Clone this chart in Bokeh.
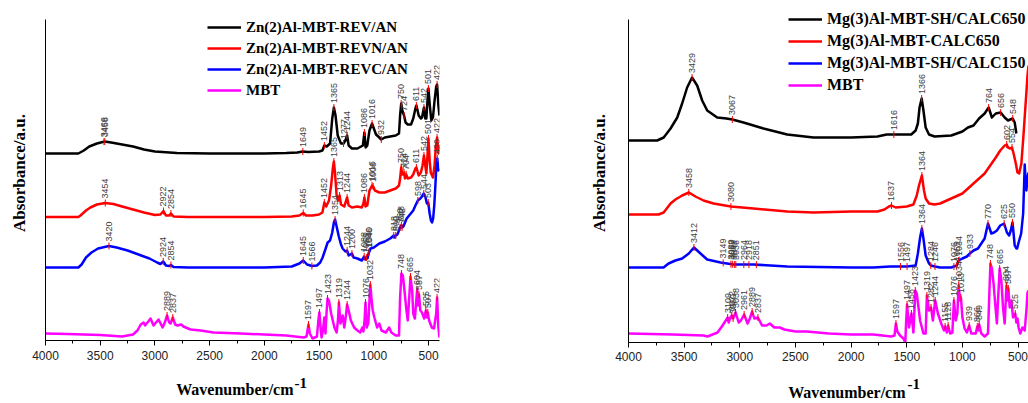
import numpy as np
from bokeh.plotting import figure
from bokeh.layouts import row, column
from bokeh.models import (Range1d, SingleIntervalTicker, FixedTicker, Legend,
                          LegendItem, Label)
from bokeh.embed import file_html
from bokeh.resources import INLINE
from bokeh.core.properties import value

# ---------------------------------------------------------------------------
# FT-IR spectra: (wavenumber cm-1, absorbance a.u. incl. vertical offset)
# ---------------------------------------------------------------------------
ZN_REV = [(4000, 1.87), (3700, 1.87), (3650, 1.90), (3600, 1.94), (3530, 1.97), (3460, 1.99),
          (3400, 1.98), (3300, 1.96), (3200, 1.94), (3100, 1.91), (3000, 1.89), (2800, 1.875),
          (2500, 1.87), (2000, 1.87), (1800, 1.875), (1700, 1.88), (1649, 1.89), (1600, 1.885),
          (1500, 1.89), (1470, 1.90), (1452, 1.95), (1430, 1.94), (1400, 1.97), (1380, 2.22),
          (1365, 2.33), (1350, 2.25), (1330, 2.05), (1300, 1.97), (1277, 1.97), (1260, 2.00),
          (1244, 2.05), (1230, 1.95), (1200, 1.92), (1150, 1.92), (1100, 1.95), (1086, 2.08),
          (1075, 1.93), (1060, 1.95), (1040, 2.10), (1016, 2.17), (1000, 2.12), (980, 2.06),
          (950, 2.03), (932, 2.01), (900, 2.03), (850, 2.04), (800, 2.05), (770, 2.07),
          (760, 2.25), (750, 2.37), (740, 2.30), (724, 2.25), (710, 2.18), (690, 2.16),
          (660, 2.16), (640, 2.22), (620, 2.32), (611, 2.35), (590, 2.25), (570, 2.22),
          (560, 2.23), (542, 2.33), (530, 2.22), (520, 2.22), (510, 2.40), (501, 2.52),
          (490, 2.37), (475, 2.20), (460, 2.23), (445, 2.40), (430, 2.54), (422, 2.56),
          (410, 2.35), (400, 2.25)]
ZN_REVN = [(4000, 1.235), (3700, 1.235), (3680, 1.25), (3630, 1.30), (3590, 1.33), (3530, 1.36),
           (3454, 1.375), (3380, 1.365), (3300, 1.34), (3200, 1.31), (3100, 1.28), (3000, 1.255),
           (2950, 1.26), (2922, 1.295), (2900, 1.25), (2870, 1.25), (2854, 1.27), (2830, 1.24),
           (2700, 1.235), (2000, 1.235), (1750, 1.24), (1680, 1.25), (1645, 1.275), (1620, 1.25),
           (1560, 1.25), (1500, 1.26), (1470, 1.28), (1452, 1.38), (1435, 1.34), (1410, 1.40),
           (1390, 1.55), (1375, 1.72), (1365, 1.79), (1355, 1.68), (1340, 1.45), (1325, 1.40),
           (1313, 1.45), (1300, 1.36), (1270, 1.34), (1244, 1.43), (1230, 1.35), (1200, 1.33),
           (1150, 1.34), (1110, 1.33), (1095, 1.37), (1086, 1.43), (1076, 1.34), (1060, 1.35),
           (1040, 1.50), (1016, 1.55), (1006, 1.54), (990, 1.50), (950, 1.48), (900, 1.48),
           (850, 1.50), (800, 1.52), (770, 1.55), (760, 1.62), (750, 1.73), (740, 1.66),
           (724, 1.68), (715, 1.62), (704, 1.66), (690, 1.62), (660, 1.63), (640, 1.66),
           (620, 1.72), (611, 1.73), (590, 1.65), (570, 1.68), (555, 1.75), (542, 1.85),
           (530, 1.75), (520, 1.67), (510, 1.85), (501, 2.02), (490, 1.80), (480, 1.68),
           (460, 1.63), (445, 1.75), (435, 1.92), (422, 2.03), (410, 1.87), (400, 1.95)]
ZN_REVC = [(4000, 0.73), (3700, 0.73), (3670, 0.76), (3630, 0.83), (3580, 0.88), (3520, 0.92),
           (3420, 0.945), (3350, 0.93), (3250, 0.90), (3150, 0.86), (3050, 0.82), (2980, 0.78),
           (2950, 0.765), (2924, 0.79), (2900, 0.75), (2870, 0.745), (2854, 0.755), (2830, 0.735),
           (2700, 0.73), (2000, 0.73), (1750, 0.74), (1680, 0.77), (1645, 0.80), (1610, 0.76),
           (1566, 0.745), (1520, 0.75), (1490, 0.78), (1468, 0.83), (1440, 0.92), (1422, 0.98),
           (1400, 1.00), (1380, 1.08), (1365, 1.18), (1354, 1.21), (1340, 1.14), (1320, 1.04),
           (1300, 0.96), (1285, 0.92), (1260, 0.89), (1244, 0.90), (1230, 0.85), (1215, 0.86),
           (1200, 0.87), (1185, 0.83), (1150, 0.82), (1110, 0.80), (1088, 0.84), (1078, 0.81),
           (1068, 0.83), (1058, 0.82), (1046, 0.88), (1040, 0.89), (1030, 0.92), (1000, 0.93),
           (950, 0.97), (900, 0.99), (850, 1.02), (818, 1.05), (808, 1.03), (800, 1.05),
           (785, 1.06), (770, 1.10), (760, 1.13), (748, 1.15), (742, 1.13), (730, 1.14),
           (715, 1.18), (700, 1.22), (670, 1.26), (640, 1.30), (620, 1.35), (598, 1.40),
           (575, 1.42), (560, 1.44), (544, 1.47), (530, 1.44), (515, 1.37), (503, 1.38),
           (490, 1.27), (478, 1.20), (468, 1.18), (458, 1.22), (448, 1.35), (440, 1.50),
           (430, 1.72), (420, 1.82), (410, 1.70), (400, 1.72)]
MBT_A = [(4000, 0.07), (3800, 0.065), (3500, 0.055), (3300, 0.04), (3200, 0.06), (3160, 0.10),
         (3130, 0.16), (3104, 0.18), (3090, 0.15), (3077, 0.17), (3060, 0.19), (3040, 0.22),
         (3013, 0.15), (2990, 0.18), (2967, 0.21), (2930, 0.13), (2910, 0.18), (2889, 0.25),
         (2870, 0.18), (2857, 0.17), (2837, 0.23), (2815, 0.16), (2794, 0.15), (2760, 0.16),
         (2740, 0.14), (2675, 0.11), (2583, 0.10), (2464, 0.08), (2217, 0.07), (2000, 0.06),
         (1800, 0.05), (1640, 0.03), (1615, 0.04), (1597, 0.16), (1585, 0.07), (1560, 0.02),
         (1520, 0.04), (1505, 0.22), (1497, 0.28), (1488, 0.15), (1478, 0.03), (1465, 0.10),
         (1452, 0.23), (1442, 0.07), (1432, 0.28), (1423, 0.42), (1410, 0.40), (1390, 0.27),
         (1360, 0.13), (1340, 0.08), (1328, 0.20), (1319, 0.38), (1305, 0.17), (1290, 0.22),
         (1285, 0.25), (1270, 0.13), (1255, 0.25), (1244, 0.36), (1230, 0.30), (1210, 0.20),
         (1180, 0.13), (1150, 0.10), (1125, 0.08), (1105, 0.13), (1095, 0.09), (1085, 0.20),
         (1076, 0.38), (1065, 0.13), (1050, 0.18), (1040, 0.40), (1032, 0.56), (1020, 0.40),
         (1010, 0.30), (995, 0.23), (970, 0.13), (950, 0.17), (930, 0.10), (890, 0.08),
         (860, 0.13), (840, 0.08), (800, 0.05), (770, 0.05), (760, 0.43), (748, 0.67),
         (735, 0.65), (720, 0.50), (705, 0.33), (690, 0.20), (680, 0.37), (665, 0.64),
         (650, 0.50), (640, 0.27), (625, 0.22), (612, 0.40), (604, 0.51), (595, 0.35),
         (587, 0.46), (575, 0.30), (560, 0.28), (540, 0.22), (525, 0.30), (515, 0.23),
         (507, 0.28), (495, 0.20), (470, 0.13), (450, 0.12), (430, 0.27), (422, 0.43),
         (410, 0.13), (400, 0.03)]

MG_SH650 = [(4000, 2.02), (3742, 2.02), (3684, 2.05), (3622, 2.14), (3562, 2.25), (3518, 2.39),
            (3473, 2.55), (3429, 2.65), (3383, 2.57), (3338, 2.42), (3293, 2.32), (3203, 2.25),
            (3120, 2.24), (3067, 2.23), (2967, 2.20), (2787, 2.14), (2574, 2.08), (2338, 2.05),
            (2000, 2.05), (1763, 2.06), (1680, 2.08), (1616, 2.08), (1560, 2.08), (1460, 2.08),
            (1420, 2.12), (1400, 2.19), (1385, 2.35), (1366, 2.44), (1350, 2.32), (1330, 2.15),
            (1300, 2.08), (1250, 2.06), (1100, 2.07), (1000, 2.11), (950, 2.15), (900, 2.17),
            (850, 2.24), (800, 2.29), (764, 2.35), (735, 2.25), (700, 2.29), (656, 2.30),
            (620, 2.25), (590, 2.22), (570, 2.23), (548, 2.24), (530, 2.20), (515, 2.09)]
MG_650 = [(4000, 1.28), (3730, 1.28), (3684, 1.30), (3622, 1.39), (3578, 1.43), (3518, 1.47),
          (3458, 1.50), (3398, 1.46), (3326, 1.42), (3236, 1.39), (3080, 1.36), (2877, 1.34),
          (2574, 1.31), (2338, 1.30), (2000, 1.31), (1763, 1.31), (1700, 1.33), (1660, 1.36),
          (1637, 1.37), (1600, 1.35), (1500, 1.36), (1440, 1.38), (1410, 1.47), (1390, 1.57),
          (1364, 1.67), (1345, 1.52), (1330, 1.44), (1300, 1.39), (1250, 1.38), (1200, 1.39),
          (1100, 1.44), (1000, 1.49), (950, 1.54), (900, 1.59), (850, 1.64), (800, 1.69),
          (750, 1.77), (700, 1.85), (660, 1.92), (620, 1.97), (602, 1.98), (590, 1.95),
          (570, 1.94), (554, 1.95), (540, 1.89), (520, 1.79), (505, 1.70), (490, 1.69),
          (470, 1.79), (450, 2.09), (430, 2.42), (415, 2.67), (406, 2.77)]
MG_SH150 = [(4000, 0.75), (3685, 0.75), (3640, 0.79), (3578, 0.82), (3518, 0.84), (3458, 0.89),
            (3412, 0.95), (3353, 0.89), (3293, 0.83), (3173, 0.80), (3057, 0.78), (2877, 0.78),
            (2574, 0.76), (2000, 0.75), (1800, 0.75), (1650, 0.76), (1556, 0.76), (1497, 0.76),
            (1420, 0.77), (1400, 0.89), (1380, 1.05), (1364, 1.14), (1350, 1.04), (1330, 0.87),
            (1300, 0.79), (1284, 0.77), (1246, 0.76), (1200, 0.75), (1100, 0.75), (1076, 0.76),
            (1050, 0.77), (1034, 0.82), (1000, 0.84), (960, 0.86), (933, 0.89), (900, 0.92),
            (860, 0.94), (800, 1.04), (770, 1.19), (740, 1.09), (715, 1.10), (690, 1.12),
            (660, 1.17), (625, 1.19), (600, 1.10), (580, 1.07), (565, 1.12), (550, 1.20),
            (540, 1.09), (530, 0.97), (515, 0.94), (508, 0.94), (495, 1.00), (472, 1.09),
            (454, 1.29), (445, 1.60), (440, 1.78), (432, 1.62), (425, 1.52), (415, 1.65),
            (406, 1.70)]
MBT_B = [(4000, 0.09), (3600, 0.08), (3326, 0.07), (3290, 0.06), (3200, 0.10), (3155, 0.17),
         (3109, 0.25), (3100, 0.20), (3085, 0.25), (3072, 0.27), (3060, 0.24), (3038, 0.30),
         (3010, 0.20), (2990, 0.22), (2961, 0.28), (2930, 0.19), (2910, 0.24), (2889, 0.31),
         (2870, 0.24), (2837, 0.25), (2800, 0.17), (2760, 0.17), (2730, 0.19), (2690, 0.15),
         (2640, 0.15), (2600, 0.13), (2500, 0.11), (2400, 0.11), (2200, 0.09), (2000, 0.08),
         (1800, 0.08), (1640, 0.06), (1610, 0.07), (1597, 0.19), (1585, 0.11), (1560, 0.07),
         (1530, 0.04), (1513, 0.00), (1505, 0.22), (1497, 0.38), (1480, 0.15), (1458, 0.29),
         (1440, 0.10), (1423, 0.52), (1410, 0.49), (1380, 0.22), (1350, 0.09), (1330, 0.09),
         (1319, 0.47), (1300, 0.32), (1282, 0.35), (1265, 0.22), (1244, 0.42), (1220, 0.29),
         (1190, 0.19), (1165, 0.12), (1155, 0.16), (1140, 0.10), (1128, 0.17), (1110, 0.09),
         (1090, 0.10), (1076, 0.42), (1060, 0.22), (1045, 0.29), (1034, 0.57), (1020, 0.42),
         (1013, 0.45), (1000, 0.25), (980, 0.14), (960, 0.10), (939, 0.17), (920, 0.09),
         (880, 0.09), (866, 0.16), (855, 0.12), (849, 0.18), (830, 0.09), (800, 0.06),
         (770, 0.09), (760, 0.42), (748, 0.79), (735, 0.74), (720, 0.59), (700, 0.32),
         (690, 0.19), (680, 0.42), (665, 0.74), (650, 0.62), (635, 0.35), (620, 0.19),
         (604, 0.57), (595, 0.42), (587, 0.54), (575, 0.35), (560, 0.42), (545, 0.25),
         (525, 0.29), (515, 0.20), (505, 0.24), (495, 0.15), (480, 0.09), (460, 0.15),
         (440, 0.12), (425, 0.32), (415, 0.50), (406, 0.52)]

# Assigned band positions (cm-1) printed over each spectrum
ZN_REV_PEAKS = [3466, 3458, 1649, 1452, 1365, 1277, 1244, 1086, 1016, 932, 750, 724, 611, 542, 501, 422]
ZN_REVN_PEAKS = [3454, 2922, 2854, 1645, 1452, 1365, 1313, 1244, 1086, 1016, 1006, 750, 724, 704,
                 611, 542, 501, 422]
ZN_REVC_PEAKS = [3420, 2924, 2854, 1645, 1566, 1354, 1244, 1200, 1088, 1068, 1046, 1040, 818, 800,
                 760, 748, 742, 598, 544, 503, 420]
MBT_A_PEAKS = [2889, 2837, 1597, 1497, 1423, 1319, 1244, 1076, 1032, 748, 665, 604, 587, 525, 507, 422]

MG_SH650_PEAKS = [3429, 3067, 1616, 1366, 764, 656, 548]
MG_650_PEAKS = [3458, 3080, 1637, 1364, 602, 554]
MG_SH150_PEAKS = [3412, 3149, 3080, 3067, 3049, 3036, 2964, 2918, 2851, 1556, 1497, 1364, 1284, 1246,
                  1076, 1052, 1034, 933, 770, 625, 550]
MBT_B_PEAKS = [3109, 3072, 3060, 3038, 2961, 2889, 2837, 1597, 1497, 1458, 1423, 1319, 1282, 1244,
               1155, 1128, 1076, 1034, 1013, 939, 866, 849, 748, 665, 604, 587, 525]

ZN_NAMES = ["Zn(2)Al-MBT-REV/AN", "Zn(2)Al-MBT-REVN/AN", "Zn(2)Al-MBT-REVC/AN", "MBT"]
MG_NAMES = ["Mg(3)Al-MBT-SH/CALC650", "Mg(3)Al-MBT-CALC650", "Mg(3)Al-MBT-SH/CALC150", "MBT"]
COLORS = ["#000000", "#ff0000", "#0000ff", "#ff00ff"]

SERIF = "Liberation Serif"
SANS = "Liberation Sans"
PLOT_H = 368


def spectrum_panel(series, peak_sets, names, width, x_end, y_axis_top, y_view_top,
                   border_left, border_right, border_top, border_bottom, tick_standoff,
                   legend_loc, legend_size, legend_spacing, ylab_standoff):
    p = figure(width=width, height=PLOT_H, x_range=Range1d(4000, x_end),
               y_range=Range1d(0, y_view_top),
               output_backend="svg", toolbar_location=None,
               min_border_left=border_left, min_border_right=border_right,
               min_border_top=border_top, min_border_bottom=border_bottom)
    p.outline_line_color = None
    p.xgrid.visible = False
    p.ygrid.visible = False
    p.background_fill_color = "white"
    p.border_fill_color = "white"

    xa = p.xaxis[0]
    xa.ticker = SingleIntervalTicker(interval=500, num_minor_ticks=2)
    xa.axis_line_color = "#000000"
    xa.major_tick_line_color = "#000000"
    xa.minor_tick_line_color = "#000000"
    xa.major_tick_out = 5
    xa.major_tick_in = 0
    xa.minor_tick_out = 3
    xa.minor_tick_in = 0
    xa.major_label_text_font = SANS
    xa.major_label_text_font_size = "12px"
    xa.major_label_text_color = "#222222"
    xa.major_label_standoff = tick_standoff

    ya = p.yaxis[0]
    ya.ticker = FixedTicker(ticks=[])
    ya.bounds = (0, y_axis_top)
    ya.major_tick_out = 0
    ya.minor_tick_out = 0
    ya.major_label_standoff = 0
    ya.major_label_text_font_size = "0px"
    ya.axis_line_color = "#000000"
    ya.axis_label = "Absorbance/a.u."
    ya.axis_label_text_font = SERIF
    ya.axis_label_text_font_style = "bold"
    ya.axis_label_text_font_size = "17px"
    ya.axis_label_text_color = "#000000"
    ya.axis_label_standoff = ylab_standoff

    items = []
    for pts, name, color in zip(series, names, COLORS):
        w = np.array([q[0] for q in pts], dtype=float)
        a = np.array([q[1] for q in pts], dtype=float)
        r = p.line(w, a, line_color=color, line_width=2.5, line_join="round")
        items.append(LegendItem(label=name, renderers=[r]))

    for pts, peaks in zip(series, peak_sets):
        w = np.array([q[0] for q in pts], dtype=float)
        a = np.array([q[1] for q in pts], dtype=float)
        pk = np.array(peaks, dtype=float)
        yk = np.interp(pk, w[::-1], a[::-1])
        p.segment(x0=pk, y0=yk - 0.035, x1=pk, y1=yk + 0.035, line_color="#ff0000", line_width=1)
        p.text(x=pk, y=yk + 0.045, text=[str(v) for v in peaks], angle=np.pi / 2,
               text_align="left", text_baseline="middle", text_font=value(SANS),
               text_font_size="9px", text_color="#404040")

    # location = offset of the legend's bottom-left corner from the frame's bottom-left
    legend = Legend(items=items, location=legend_loc, orientation="vertical",
                    glyph_width=34, glyph_height=20, label_height=20, label_standoff=5,
                    spacing=legend_spacing, padding=0, margin=0,
                    border_line_alpha=0, background_fill_alpha=0,
                    label_text_font=SERIF, label_text_font_style="bold",
                    label_text_font_size=legend_size, label_text_color="#000000")
    p.add_layout(legend)
    return p


def axis_caption(width, height, text_pos, sup_pos):
    """Strip under a panel carrying the x-axis title 'Wavenumber/cm' with a -1 superscript."""
    c = figure(width=width, height=height, title=None, x_axis_location=None,
               y_axis_location=None, toolbar_location=None, output_backend="svg",
               min_border=0, min_border_left=0, min_border_right=0,
               min_border_top=0, min_border_bottom=0)
    c.outline_line_color = None
    c.xgrid.visible = False
    c.ygrid.visible = False
    c.add_layout(Label(x=text_pos[0], y=text_pos[1], x_units="screen", y_units="screen",
                       text="Wavenumber/cm", text_align="right", text_baseline="middle",
                       text_font=SERIF, text_font_style="bold", text_font_size="16px",
                       text_color="#000000"))
    c.add_layout(Label(x=sup_pos[0], y=sup_pos[1], x_units="screen", y_units="screen",
                       text="-1", text_align="left", text_baseline="middle",
                       text_font=SERIF, text_font_style="bold", text_font_size="15px",
                       text_color="#000000"))
    return c


left = spectrum_panel([ZN_REV, ZN_REVN, ZN_REVC, MBT_A],
                      [ZN_REV_PEAKS, ZN_REVN_PEAKS, ZN_REVC_PEAKS, MBT_A_PEAKS],
                      ZN_NAMES, width=560, x_end=400, y_axis_top=3.21, y_view_top=3.35,
                      border_left=45, border_right=121, border_top=5, border_bottom=28,
                      tick_standoff=5, legend_loc=(162, 240), legend_size="15px",
                      legend_spacing=1, ylab_standoff=17)

right = spectrum_panel([MG_SH650, MG_650, MG_SH150, MBT_B],
                       [MG_SH650_PEAKS, MG_650_PEAKS, MG_SH150_PEAKS, MBT_B_PEAKS],
                       MG_NAMES, width=468, x_end=406, y_axis_top=3.23, y_view_top=3.39,
                       border_left=68, border_right=0, border_top=3, border_bottom=26,
                       tick_standoff=4, legend_loc=(160, 247), legend_size="16px",
                       legend_spacing=2, ylab_standoff=20)

cap_h = 403 - PLOT_H
left_cap = axis_caption(560, cap_h, text_pos=(248, 14), sup_pos=(249, 21))
right_cap = axis_caption(468, cap_h, text_pos=(277, 11), sup_pos=(279, 20))

layout = row(column(left, left_cap, spacing=0), column(right, right_cap, spacing=0), spacing=0)
open("out.html", "w").write(file_html(layout, INLINE))
